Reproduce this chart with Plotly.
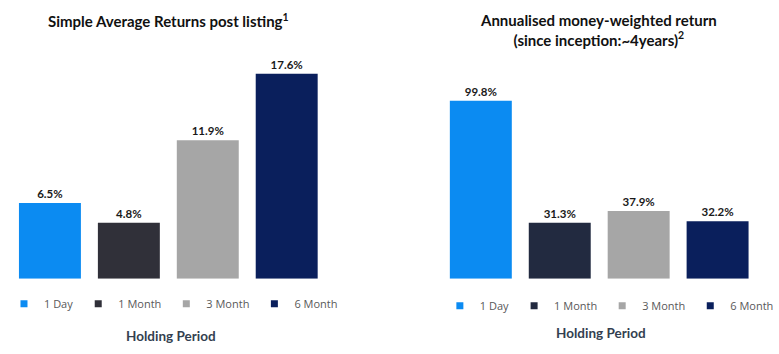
import plotly.graph_objects as go

categories = ["1 Day", "1 Month", "3 Month", "6 Month"]
left_values = [6.5, 4.8, 11.9, 17.6]
right_values = [99.8, 31.3, 37.9, 32.2]
left_colors = ["#0B8BF2", "#303039", "#A6A6A6", "#0A1F5C"]
right_colors = ["#0B8BF2", "#222A40", "#A6A6A6", "#0A1F5C"]
left_title = "<b>Simple Average Returns post listing<sup>1</sup></b>"
right_title = "<b>Annualised money-weighted return<br>(since inception:~4years)<sup>2</sup></b>"
axis_label = "<b>Holding Period</b>"

W, H = 779, 354
fig = go.Figure()

label_font = dict(family="Lato, Carlito, Calibri, sans-serif", size=11.5, color="#1a1a1a")

for i, c in enumerate(categories):
    fig.add_trace(go.Bar(x=[c], y=[left_values[i]], marker=dict(color=left_colors[i], line=dict(width=0)),
                         width=0.785, text=[f"<b>{left_values[i]:.1f}%</b>"], textposition="outside",
                         textfont=label_font, cliponaxis=False, showlegend=False,
                         xaxis="x", yaxis="y", hoverinfo="x+y"))
    fig.add_trace(go.Scatter(x=[None], y=[None], mode="markers", name=c,
                             marker=dict(symbol="square", size=7, color=left_colors[i]),
                             legend="legend", xaxis="x", yaxis="y"))
for i, c in enumerate(categories):
    fig.add_trace(go.Bar(x=[c], y=[right_values[i]], marker=dict(color=right_colors[i], line=dict(width=0)),
                         width=0.785, text=[f"<b>{right_values[i]:.1f}%</b>"], textposition="outside",
                         textfont=label_font, cliponaxis=False, showlegend=False,
                         xaxis="x2", yaxis="y2", hoverinfo="x+y"))
    fig.add_trace(go.Scatter(x=[None], y=[None], mode="markers", name=c,
                             marker=dict(symbol="square", size=7, color=right_colors[i]),
                             legend="legend2", xaxis="x2", yaxis="y2"))

ydom = [(H - 278.7) / H, (H - 45.9) / H]
axis_common = dict(showgrid=False, zeroline=False, showline=False, showticklabels=False, ticks="")
legend_font = dict(family="Open Sans, sans-serif", size=11, color="#595959")

fig.update_layout(
    width=W, height=H, margin=dict(l=0, r=0, t=0, b=0),
    paper_bgcolor="white", plot_bgcolor="white",
    barmode="overlay", showlegend=True,
    xaxis=dict(domain=[10.5 / W, 327 / W], type="category", categoryorder="array",
               categoryarray=categories, anchor="y", **axis_common),
    yaxis=dict(domain=ydom, range=[0, 20], anchor="x", **axis_common),
    xaxis2=dict(domain=[442.5 / W, 759 / W], type="category", categoryorder="array",
                categoryarray=categories, anchor="y2", **axis_common),
    yaxis2=dict(domain=ydom, range=[0, 130.5], anchor="x2", **axis_common),
    legend=dict(orientation="h", x=4 / W, xanchor="left", y=(H - 303.7) / H, yanchor="middle",
                font=legend_font, bgcolor="rgba(0,0,0,0)", itemclick=False, itemdoubleclick=False),
    legend2=dict(orientation="h", x=441 / W, xanchor="left", y=(H - 305.7) / H, yanchor="middle",
                 font=legend_font, bgcolor="rgba(0,0,0,0)", itemclick=False, itemdoubleclick=False),
    annotations=[
        dict(text=left_title, x=169 / W, y=(H - 20) / H, xref="paper", yref="paper",
             xanchor="center", yanchor="middle", showarrow=False,
             font=dict(family="Lato, Carlito, Calibri, sans-serif", size=15, color="#111111")),
        dict(text=right_title, x=600 / W, y=(H - 30) / H, xref="paper", yref="paper",
             xanchor="center", yanchor="middle", showarrow=False,
             font=dict(family="Lato, Carlito, Calibri, sans-serif", size=15, color="#111111")),
        dict(text=axis_label, x=171 / W, y=(H - 336) / H, xref="paper", yref="paper",
             xanchor="center", yanchor="middle", showarrow=False,
             font=dict(family="Lato, Carlito, Calibri, sans-serif", size=13.5, color="#333F50")),
        dict(text=axis_label, x=603 / W, y=(H - 333) / H, xref="paper", yref="paper",
             xanchor="center", yanchor="middle", showarrow=False,
             font=dict(family="Lato, Carlito, Calibri, sans-serif", size=13.5, color="#333F50")),
    ],
)

fig.write_html("out.html")
